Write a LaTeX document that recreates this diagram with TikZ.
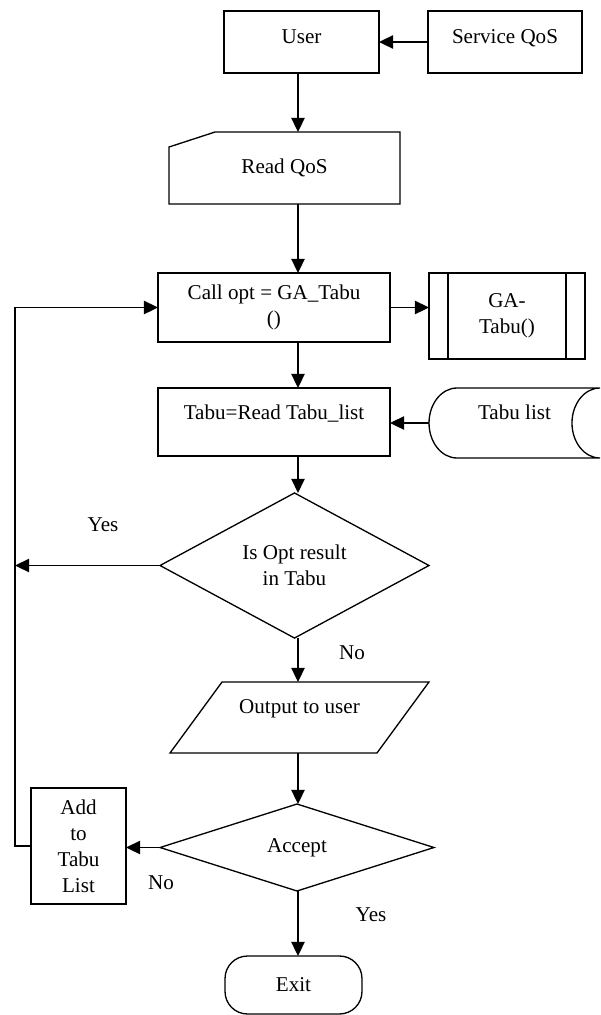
\documentclass[tikz,border=0pt]{standalone}
\usepackage{fontspec}
\setmainfont{Liberation Serif}
\usetikzlibrary{shapes.geometric, arrows.meta, calc}

\begin{document}
\begin{tikzpicture}[x=0.02cm, y=-0.02cm,
  font=\fontsize{12}{14.8}\selectfont,
  box/.style={draw, rectangle, line width=0.75pt, align=center, inner sep=2pt, outer sep=0pt},
  plain/.style={rectangle, align=center, inner sep=2pt, outer sep=0pt},
  decision/.style={draw, diamond, line width=0.75pt, align=center, inner sep=0pt, outer sep=0pt},
  upshift/.style={text height=8.5pt, text depth=#1},
  arr/.style={-{Triangle[length=8pt, width=7.5pt]}, line width=1pt},
  lbl/.style={inner sep=1pt}]

  \useasboundingbox (0,0) rectangle (600,1015);
  \coordinate (spine) at (298,0);
  \coordinate (loop) at (15,0);

  % Flow chart
  \node[box, minimum width=3.1cm, minimum height=1.24cm, upshift=6.9pt] (user) at (301.5,42) {User};
  \node[box, minimum width=3.08cm, minimum height=1.24cm, upshift=6.9pt] (serviceqos) at (505,42) {Service QoS};

  \node[plain, minimum width=4.62cm, minimum height=1.44cm] (readqos) at (284.5,168) {Read QoS};
  \draw[line width=0.75pt] ($(readqos.north west)+(0,15)$) -- ($(readqos.north west)+(46,0)$) -- (readqos.north east) -- (readqos.south east) -- (readqos.south west) -- cycle;

  \node[box, minimum width=4.64cm, minimum height=1.38cm] (callopt) at (274,307.5) {Call opt = GA\_Tabu\\()};
  \node[box, minimum width=3.12cm, minimum height=1.72cm] (gatabu) at (507,316) {GA-\\Tabu()};
  \draw[line width=0.75pt] ([xshift=0.38cm]gatabu.north west) -- ([xshift=0.38cm]gatabu.south west);
  \draw[line width=0.75pt] ([xshift=-0.38cm]gatabu.north east) -- ([xshift=-0.38cm]gatabu.south east);

  \node[box, minimum width=4.64cm, minimum height=1.36cm, upshift=11.5pt] (taburead) at (274,422) {Tabu=Read Tabu\_list};
  \node[plain, minimum width=3.42cm, minimum height=1.4cm, upshift=12.7pt] (tabulist) at (514.5,423) {Tabu list};
  \draw[line width=0.75pt] ($(tabulist.north west)+(28,0)$) -- (tabulist.north east)
    arc[start angle=90, end angle=270, x radius=0.56cm, y radius=0.7cm]
    -- ($(tabulist.south west)+(28,0)$)
    arc[start angle=270, end angle=90, x radius=0.56cm, y radius=0.7cm];

  \node[decision, minimum width=5.38cm, minimum height=2.58cm] (isopt) at (294.5,565.5) {Is Opt result\\in Tabu};

  \node[plain, minimum width=5.18cm, minimum height=1.42cm, upshift=13.3pt] (output) at (299.5,717.5) {Output to user};
  \draw[line width=0.75pt] ($(output.north west)+(52,0)$) -- (output.north east) -- ($(output.south east)+(-52,0)$) -- (output.south west) -- cycle;

  \node[decision, minimum width=5.48cm, minimum height=1.74cm] (accept) at (297,847.5) {Accept};
  \node[box, minimum width=1.9cm, minimum height=2.32cm] (addtabu) at (78.5,846) {Add\\to\\Tabu\\List};
  \node[box, rounded corners=0.45cm, minimum width=2.74cm, minimum height=1.16cm] (exit) at (293.5,985) {Exit};

  % Labels
  \node[lbl] (yesopt) at (103,525) {Yes};
  \node[lbl] (noopt) at (352,653) {No};
  \node[lbl] (noaccept) at (161,883) {No};
  \node[lbl] (yesaccept) at (371,915) {Yes};

  % Arrows
  \draw[arr] (serviceqos.west) -- (user.east);
  \draw[arr] (user.south -| spine) -- (readqos.north -| spine);
  \draw[arr] (readqos.south -| spine) -- (callopt.north -| spine);
  \draw[arr] (callopt.east) -- (callopt.east -| gatabu.west);
  \draw[arr] (callopt.south -| spine) -- (taburead.north -| spine);
  \draw[arr] (tabulist.west) -- (tabulist.west -| taburead.east);
  \draw[arr] (taburead.south -| spine) -- (isopt.north -| spine);
  \draw[arr] (isopt.west) -- (isopt.west -| loop);
  \draw[arr] (isopt.south -| spine) -- (output.north -| spine);
  \draw[arr] (output.south -| spine) -- (accept.north -| spine);
  \draw[arr] (accept.west) -- (accept.west -| addtabu.east);
  \draw[arr] (accept.south -| spine) -- (exit.north -| spine);
  \draw[arr] (addtabu.west) -- (addtabu.west -| loop) |- (callopt.west);
\end{tikzpicture}
\end{document}
